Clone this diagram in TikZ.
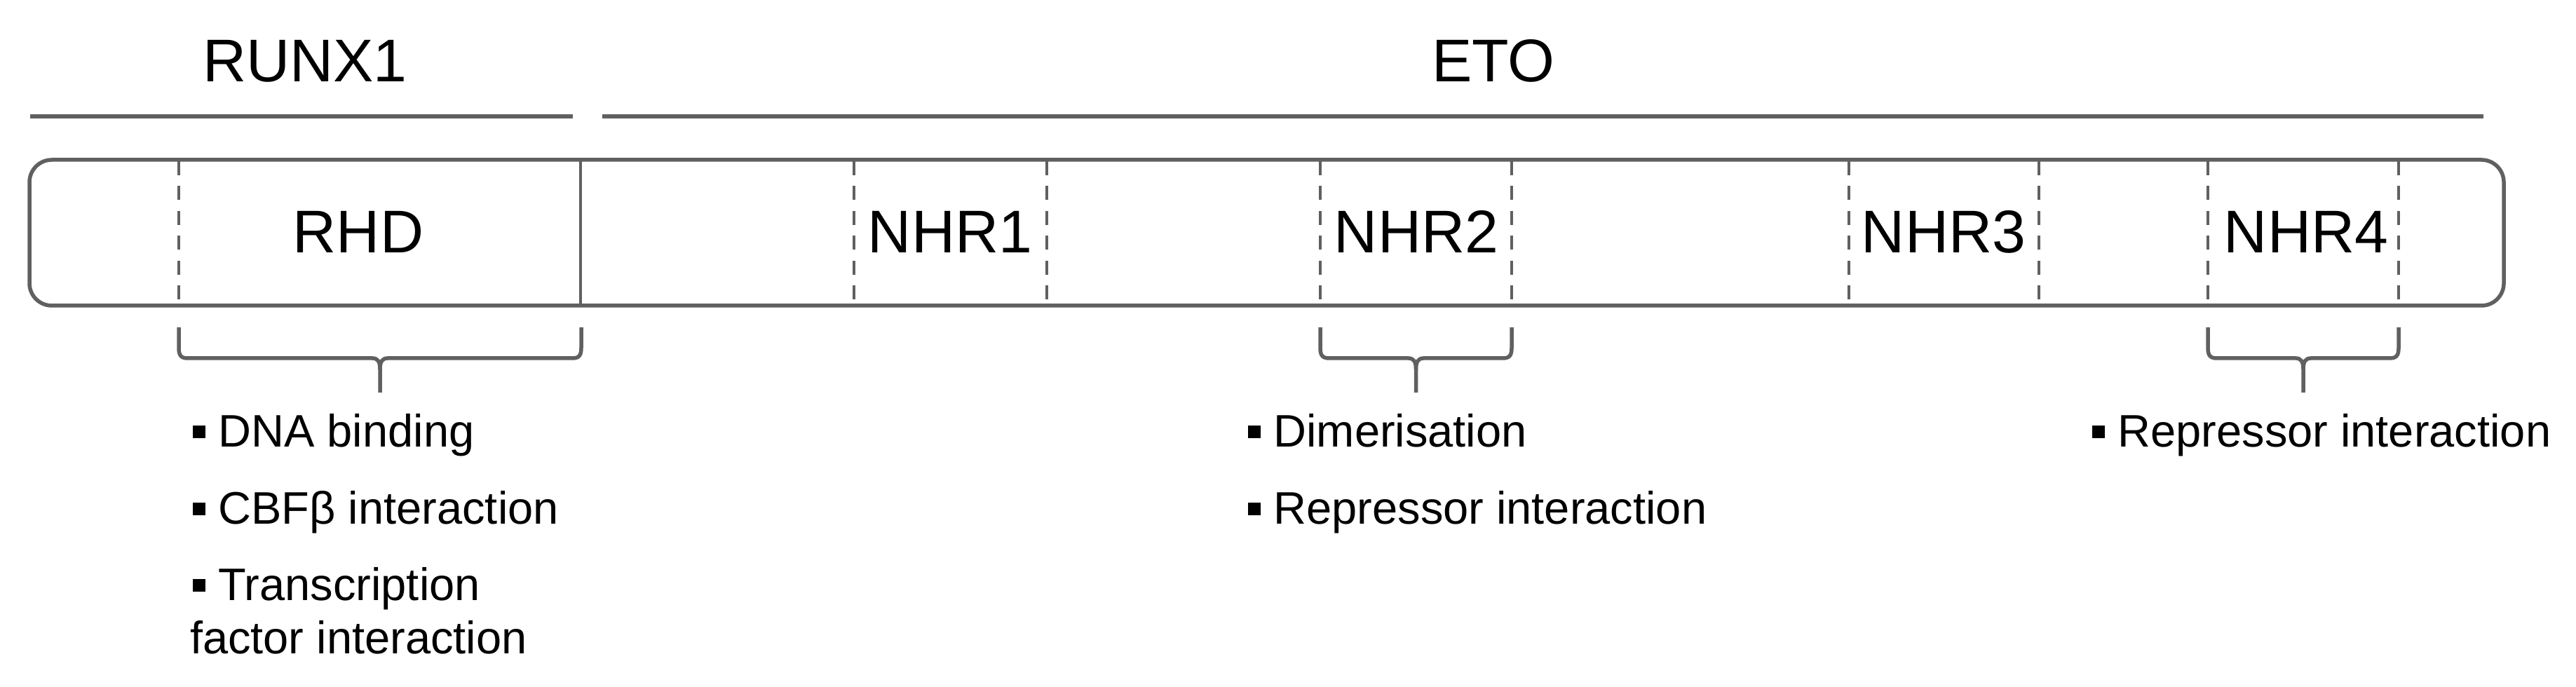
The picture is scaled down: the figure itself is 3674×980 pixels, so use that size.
\documentclass[tikz,border=0pt]{standalone}
\usepackage{fontspec}
\setmainfont{Liberation Sans}
\definecolor{linegray}{RGB}{96,96,96}
\newcommand\itembullet{\rule[2.6pt]{3.5pt}{3.5pt}\hspace{3.8pt}}
\begin{document}
\begin{tikzpicture}[x=0.2pt,y=-0.2pt,
  hdr/.style={font=\fontsize{17.2}{20}\selectfont, inner sep=0pt, anchor=base},
  lst/.style={font=\fontsize{13}{15.5}\selectfont, inner sep=0pt, anchor=base west},
  topline/.style={draw=linegray, line width=1.2pt},
  boxline/.style={draw=linegray, line width=1.1pt},
  divline/.style={draw=linegray, line width=0.9pt},
  dline/.style={draw=linegray, line width=0.8pt, dash pattern=on 4pt off 3.1pt},
  brc/.style={draw=linegray, line width=1.1pt, line join=round}]
\fill[white] (0,0) rectangle (3674,980);
\useasboundingbox (0,0) rectangle (3674,980);

% headers and their lines
\node[hdr] (runx) at (435,117) {RUNX1};
\node[hdr] (eto) at (2130,117) {ETO};
\coordinate (r1) at (43,166);
\coordinate (r2) at (817,166);
\coordinate (e1) at (859,166);
\coordinate (e2) at (3542,166);
\draw[topline] (r1) -- (r2);
\draw[topline] (e1) -- (e2);

% protein box
\draw[boxline, rounded corners=6.4pt] (42,228) rectangle (3571,436);
\draw[divline] (828,228) -- (828,436);

% domain borders
\foreach \x in {255,1218,1493,1883,2156,2637,2908,3149,3421}
  \draw[dline] (\x,230) -- (\x,435);

% domain labels
\node[hdr] (rhd) at (511,361) {RHD};
\node[hdr] (nhr1) at (1355,361) {NHR1};
\node[hdr] (nhr2) at (2020,361) {NHR2};
\node[hdr] (nhr3) at (2772,361) {NHR3};
\node[hdr] (nhr4) at (3289,361) {NHR4};

% braces
\foreach \a/\b in {255/829,1883/2156,3149/3421}{
  \pgfmathsetmacro\m{(\a+\b)/2}
  \draw[brc] (\a,467) -- (\a,496) .. controls (\a,507) and (\a+3,511) .. (\a+13,511)
    -- (\m-11,511) .. controls (\m-3,511) and (\m,516) .. (\m,527) -- (\m,560);
  \draw[brc] (\b,467) -- (\b,496) .. controls (\b,507) and (\b-3,511) .. (\b-13,511)
    -- (\m+11,511) .. controls (\m+3,511) and (\m,516) .. (\m,527);
}

% lists
\node[lst] (l1) at (274,638) {\itembullet DNA binding};
\node[lst] (l2) at (274,748) {\itembullet CBFβ interaction};
\node[lst] (l3) at (274,857) {\itembullet Transcription};
\node[lst] (l3b) at (270,933) {factor interaction};
\node[lst] (m1) at (1779,638) {\itembullet Dimerisation};
\node[lst] (m2) at (1779,748) {\itembullet Repressor interaction};
\node[lst] (n1) at (2983,638) {\itembullet Repressor interaction};
\end{tikzpicture}
\end{document}
